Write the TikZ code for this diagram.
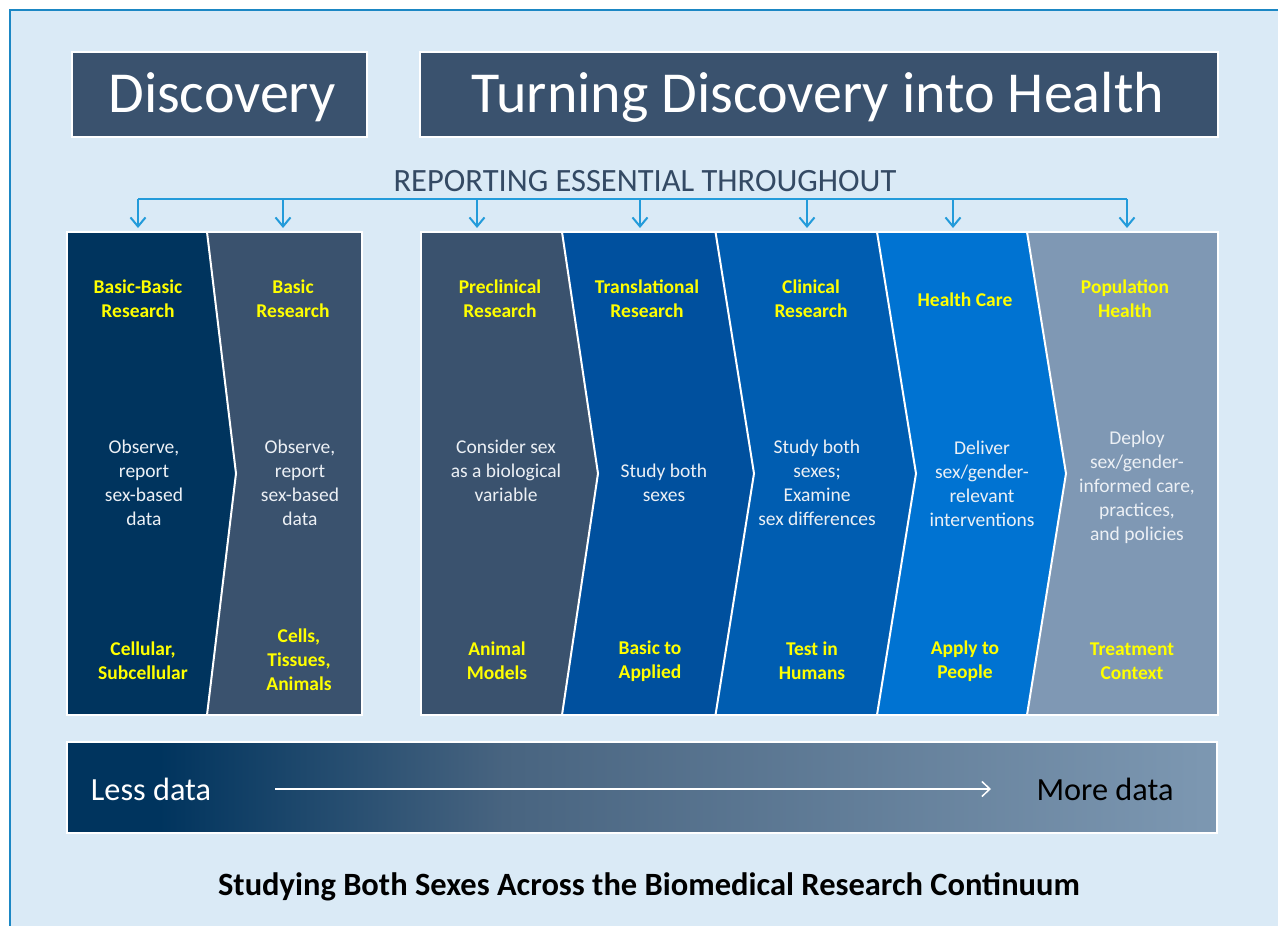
\documentclass[tikz,border=0pt]{standalone}
\usepackage{fontspec}
\setmainfont{Carlito}
\usetikzlibrary{arrows.meta}
\definecolor{bgblue}{RGB}{218,234,246}
\definecolor{frameblue}{RGB}{27,135,196}
\definecolor{slate}{RGB}{58,82,110}
\definecolor{navy}{RGB}{0,52,94}
\definecolor{transblue}{RGB}{0,80,158}
\definecolor{clinblue}{RGB}{0,93,177}
\definecolor{careblue}{RGB}{0,115,210}
\definecolor{popgrey}{RGB}{127,152,180}
\definecolor{barmid}{RGB}{72,100,128}
\definecolor{barend}{RGB}{125,152,178}
\definecolor{arrowblue}{RGB}{35,155,218}
\definecolor{headyellow}{RGB}{255,255,0}
\definecolor{bodywhite}{RGB}{236,240,245}
\definecolor{titleslate}{RGB}{52,74,100}
\pgfdeclarehorizontalshading{databar}{100bp}{color(0bp)=(navy); color(25bp)=(navy); color(29bp)=(navy); color(44bp)=(barmid); color(75bp)=(barend); color(100bp)=(barend)}
\begin{document}
\begin{tikzpicture}[x=1pt,y=-1pt,
  header/.style={fill=slate, draw=white, line width=1.5pt},
  htext/.style={text=white, inner sep=0pt, font=\fontsize{58}{62}\selectfont},
  heading/.style={text=headyellow, align=center, inner sep=0pt, font=\bfseries\fontsize{19.5}{24}\selectfont},
  body/.style={text=bodywhite, align=center, inner sep=0pt, font=\fontsize{19.5}{24}\selectfont},
  sep/.style={draw=white, line width=2pt},
  feed/.style={draw=arrowblue, line width=2pt, -{Straight Barb[length=9pt,width=15pt,line width=2pt]}},
]
\useasboundingbox (0,0) rectangle (1278,926);
\fill[white] (0,0) rectangle (1278,926);
\fill[bgblue] (10,10) rectangle (1278,926);
\draw[frameblue, line width=2pt] (10,926) -- (10,10) -- (1278,10);

% header boxes
\draw[header] (72,52) rectangle (367,137);
\node[htext] (disc) at (222,97) {Discovery};
\draw[header] (420,52) rectangle (1218,137);
\node[htext] (turn) at (818,97) {Turning Discovery into Health};

% reporting line
\node[text=titleslate, inner sep=0pt, font=\fontsize{32.5}{36}\selectfont] (rep) at (645,181) {REPORTING ESSENTIAL THROUGHOUT};
\foreach \i/\x in {1/138,2/283,3/477,4/640,5/807,6/953,7/1127}{
  \coordinate (s\i) at (\x,199);
  \coordinate (t\i) at (\x,228);
}
\draw[arrowblue, line width=2pt] (s1) -- (s7);
\foreach \i in {1,...,7}{ \draw[feed] (s\i) -- (t\i); }

% left panel
\fill[navy] (67,232) -- (207,232) -- (236,473.5) -- (207,715) -- (67,715) -- cycle;
\fill[slate] (207,232) -- (362,232) -- (362,715) -- (207,715) -- (236,473.5) -- cycle;
\draw[sep] (207,232) -- (236,473.5) -- (207,715);
\draw[white, line width=1.5pt] (67,232) rectangle (362,715);

% right panel
\fill[slate] (421,232) -- (562,232) -- (598,473.5) -- (562,715) -- (421,715) -- cycle;
\fill[transblue] (562,232) -- (715.5,232) -- (754,473.5) -- (715.5,715) -- (562,715) -- (598,473.5) -- cycle;
\fill[clinblue] (715.5,232) -- (877,232) -- (916,473.5) -- (877,715) -- (715.5,715) -- (754,473.5) -- cycle;
\fill[careblue] (877,232) -- (1027,232) -- (1066,473.5) -- (1027,715) -- (877,715) -- (916,473.5) -- cycle;
\fill[popgrey] (1027,232) -- (1218,232) -- (1218,715) -- (1027,715) -- (1066,473.5) -- cycle;
\draw[sep] (562,232) -- (598,473.5) -- (562,715);
\draw[sep] (715.5,232) -- (754,473.5) -- (715.5,715);
\draw[sep] (877,232) -- (916,473.5) -- (877,715);
\draw[sep] (1027,232) -- (1066,473.5) -- (1027,715);
\draw[white, line width=1.5pt] (421,232) rectangle (1218,715);

% headings
\node[heading] (h1) at (138,299) {Basic-Basic\\Research};
\node[heading] (h2) at (293,299) {Basic\\Research};
\node[heading] (h3) at (500,299) {Preclinical\\Research};
\node[heading] (h4) at (647,299) {Translational\\Research};
\node[heading] (h5) at (811,299) {Clinical\\Research};
\node[heading] (h6) at (965,300) {Health Care};
\node[heading] (h7) at (1125,299) {Population\\Health};

% bodies
\node[body] (b1) at (144,483) {Observe,\\report\\sex-based\\data};
\node[body] (b2) at (300,483) {Observe,\\report\\sex-based\\data};
\node[body] (b3) at (506,471) {Consider sex\\as a biological\\variable};
\node[body] (b4) at (664,483) {Study both\\sexes};
\node[body] (b5) at (817,483) {Study both\\sexes;\\Examine\\sex differences};
\node[body] (b6) at (982,484) {Deliver\\sex/gender-\\relevant\\interventions};
\node[body] (b7) at (1137,487) {Deploy\\sex/gender-\\informed care,\\practices,\\and policies};

% bottoms
\node[heading] (f1) at (143,661) {Cellular,\\Subcellular};
\node[heading] (f2) at (299,660) {Cells,\\Tissues,\\Animals};
\node[heading] (f3) at (497,661) {Animal\\Models};
\node[heading] (f4) at (650,661) {Basic to\\Applied};
\node[heading] (f5) at (812,661) {Test in\\Humans};
\node[heading] (f6) at (965,661) {Apply to\\People};
\node[heading] (f7) at (1132,661) {Treatment\\Context};

% data bar
\shade[shading=databar] (67,742) rectangle (1217,833);
\draw[white, line width=1.5pt] (67,742) rectangle (1217,833);
\node[text=white, inner sep=0pt, font=\fontsize{32.3}{36}\selectfont] (less) at (151,789) {Less data};
\node[text=black, inner sep=0pt, font=\fontsize{32.3}{36}\selectfont] (more) at (1105,789) {More data};
\coordinate (a1) at (275,789);
\coordinate (a2) at (991,789);
\draw[white, line width=1.5pt, -{Straight Barb[length=8pt,width=15pt,line width=1.5pt]}] (a1) -- (a2);

% title
\node[text=black, inner sep=0pt, font=\bfseries\fontsize{32.5}{36}\selectfont] (title) at (649,887) {Studying Both Sexes Across the Biomedical Research Continuum};
\end{tikzpicture}
\end{document}
